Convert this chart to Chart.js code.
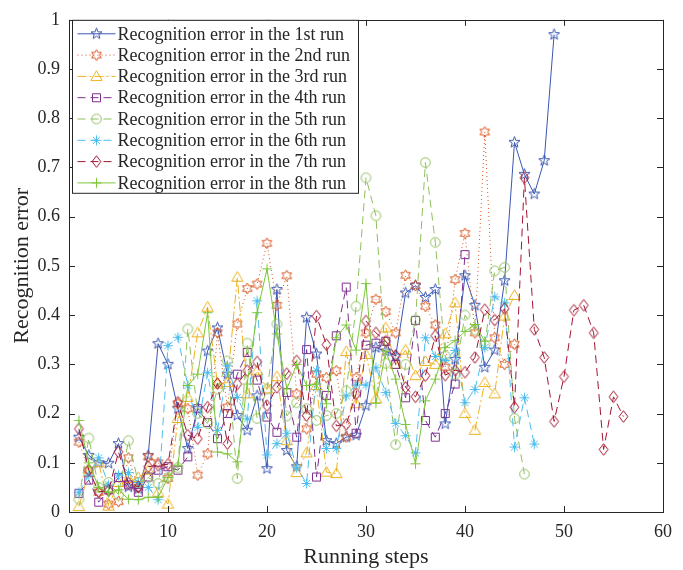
<!DOCTYPE html>
<html>
<head>
<meta charset="utf-8">
<script src="https://cdn.jsdelivr.net/npm/chart.js@4.4.1/dist/chart.umd.min.js"></script>
<style>
  html, body { margin: 0; padding: 0; background: #fff; }
  #wrap { width: 683px; height: 570px; }
</style>
</head>
<body>
<div id="wrap"><canvas id="chart" width="683" height="570"></canvas></div>
<script>
// recognition error per running step (step = index + 1)
const run1 = [0.152,0.115,0.10,0.099,0.139,0.051,0.047,0.115,0.342,0.30,0.21,0.129,0.21,0.327,0.374,0.28,0.196,0.166,0.236,0.088,0.452,0.125,0.092,0.395,0.321,0.145,0.139,0.152,0.156,0.216,0.334,0.327,0.317,0.445,0.46,0.436,0.452,0.179,0.31,0.48,0.42,0.294,0.329,0.47,0.751,0.686,0.646,0.714,0.97];
const run2 = [0.142,0.085,0.04,0.016,0.021,0.11,0.05,0.112,0.10,0.068,0.22,0.21,0.075,0.118,0.364,0.213,0.382,0.454,0.463,0.546,0.42,0.48,0.24,0.169,0.28,0.273,0.287,0.152,0.273,0.364,0.432,0.407,0.364,0.481,0.46,0.418,0.38,0.294,0.472,0.566,0.364,0.772,0.354,0.30,0.341];
const run3 = [0.011,0.08,0.10,0.012,0.06,0.068,0.07,0.085,0.04,0.016,0.19,0.233,0.364,0.416,0.26,0.263,0.477,0.24,0.287,0.25,0.275,0.145,0.08,0.12,0.257,0.081,0.078,0.326,0.22,0.32,0.23,0.374,0.30,0.329,0.277,0.306,0.30,0.362,0.425,0.2,0.166,0.263,0.24,0.398,0.44];
const run4 = [0.038,0.065,0.02,0.045,0.07,0.055,0.04,0.071,0.085,0.092,0.085,0.112,0.21,0.182,0.149,0.2,0.28,0.324,0.268,0.193,0.162,0.243,0.152,0.33,0.071,0.237,0.358,0.457,0.16,0.339,0.343,0.347,0.30,0.232,0.389,0.186,0.152,0.2,0.26,0.523];
const run5 = [0.026,0.15,0.05,0.06,0.035,0.145,0.06,0.07,0.058,0.07,0.09,0.372,0.2,0.18,0.25,0.307,0.068,0.343,0.19,0.25,0.382,0.195,0.222,0.21,0.186,0.196,0.2,0.246,0.418,0.679,0.602,0.302,0.137,0.30,0.39,0.71,0.548,0.317,0.28,0.40,0.37,0.34,0.49,0.497,0.19,0.077];
const run6 = [0.04,0.075,0.11,0.055,0.075,0.08,0.06,0.05,0.025,0.338,0.355,0.257,0.172,0.283,0.166,0.297,0.233,0.189,0.429,0.116,0.139,0.16,0.09,0.058,0.287,0.129,0.129,0.236,0.258,0.258,0.293,0.243,0.18,0.155,0.12,0.354,0.316,0.308,0.328,0.222,0.249,0.334,0.437,0.425,0.132,0.232,0.138];
const run7 = [0.169,0.085,0.041,0.043,0.122,0.059,0.051,0.092,0.095,0.097,0.223,0.156,0.149,0.213,0.261,0.139,0.26,0.287,0.305,0.216,0.253,0.281,0.307,0.196,0.398,0.34,0.175,0.178,0.24,0.388,0.364,0.347,0.318,0.253,0.234,0.277,0.358,0.278,0.288,0.284,0.314,0.411,0.39,0.413,0.213,0.679,0.371,0.314,0.184,0.275,0.41,0.42,0.364,0.127,0.234,0.194];
const run8 = [0.186,0.1,0.05,0.04,0.045,0.026,0.025,0.03,0.03,0.07,0.095,0.257,0.28,0.405,0.122,0.118,0.102,0.26,0.405,0.494,0.362,0.25,0.30,0.257,0.26,0.22,0.354,0.38,0.329,0.464,0.221,0.327,0.27,0.178,0.098,0.226,0.27,0.334,0.348,0.367,0.381,0.347];

const runs = [run1, run2, run3, run4, run5, run6, run7, run8];
const runNames = ['Recognition error in the 1st run','Recognition error in the 2nd run','Recognition error in the 3rd run','Recognition error in the 4th run','Recognition error in the 5th run','Recognition error in the 6th run','Recognition error in the 7th run','Recognition error in the 8th run'];
const colors = ['#3a57b4','#d95319','#edb120','#7e2f8e','#8fbf5c','#4dbeee','#a2142f','#7cc63a'];
const markers = ['pentagram','hexagram','triangle','square','circle','asterisk','diamond','plus'];
const dashes = [[], [1,3], [9,3,2,3], [8,5], [8,5], [8,5], [8,5], []];

const xTitle = 'Running steps';
const yTitle = 'Recognition error';
const FONT = "'Liberation Serif', 'Times New Roman', serif";
const INK = '#262626';

// draw one marker outline centered at (cx, cy)
function drawMarker(ctx, kind, cx, cy, color) {
	ctx.save();
	ctx.strokeStyle = color;
	ctx.lineWidth = 1;
	ctx.beginPath();
	if (kind === 'pentagram' || kind === 'hexagram') {
		const n = kind === 'pentagram' ? 5 : 6;
		const ro = kind === 'pentagram' ? 5.8 : 5.5;
		const ri = kind === 'pentagram' ? 2.4 : 3.1;
		for (let i = 0; i < n * 2; i++) {
			const r = i % 2 === 0 ? ro : ri;
			const a = -Math.PI / 2 + i * Math.PI / n;
			const px = cx + r * Math.cos(a), py = cy + r * Math.sin(a);
			if (i === 0) ctx.moveTo(px, py); else ctx.lineTo(px, py);
		}
		ctx.closePath();
	} else if (kind === 'triangle') {
		ctx.moveTo(cx, cy - 5.7);
		ctx.lineTo(cx + 5.7, cy + 4);
		ctx.lineTo(cx - 5.7, cy + 4);
		ctx.closePath();
	} else if (kind === 'square') {
		ctx.rect(cx - 4, cy - 4, 8, 8);
	} else if (kind === 'circle') {
		ctx.arc(cx, cy, 4.8, 0, Math.PI * 2);
	} else if (kind === 'asterisk') {
		const r = 5, d = r * 0.7071;
		ctx.moveTo(cx - r, cy); ctx.lineTo(cx + r, cy);
		ctx.moveTo(cx, cy - r); ctx.lineTo(cx, cy + r);
		ctx.moveTo(cx - d, cy - d); ctx.lineTo(cx + d, cy + d);
		ctx.moveTo(cx - d, cy + d); ctx.lineTo(cx + d, cy - d);
	} else if (kind === 'diamond') {
		ctx.moveTo(cx, cy - 5.8);
		ctx.lineTo(cx + 4.4, cy);
		ctx.lineTo(cx, cy + 5.8);
		ctx.lineTo(cx - 4.4, cy);
		ctx.closePath();
	} else if (kind === 'plus') {
		ctx.moveTo(cx - 5, cy); ctx.lineTo(cx + 5, cy);
		ctx.moveTo(cx, cy - 5); ctx.lineTo(cx, cy + 5);
	}
	ctx.stroke();
	ctx.restore();
}

// marker images used as pointStyle
const markerImgs = markers.map((m, i) => {
	const cv = document.createElement('canvas');
	cv.width = 15; cv.height = 15;
	drawMarker(cv.getContext('2d'), m, 7.5, 7.5, colors[i]);
	return cv;
});

const datasets = runs.map((vals, i) => ({
	label: runNames[i],
	data: vals.map((v, k) => ({ x: k + 1, y: v })),
	borderColor: colors[i],
	backgroundColor: 'transparent',
	borderWidth: 1,
	borderDash: dashes[i],
	pointStyle: markerImgs[i],
	pointRadius: 5,
	pointHoverRadius: 5,
	tension: 0,
	order: 8 - i,
}));

// axes box, inward ticks and legend like MATLAB
const framePlugin = {
	id: 'frame',
	afterDatasetsDraw(chart) {
		const { ctx, chartArea: a, scales } = chart;
		ctx.save();
		ctx.strokeStyle = INK;
		ctx.lineWidth = 1;
		ctx.beginPath();
		for (let v = 0; v <= 60; v += 10) {
			const px = Math.round(scales.x.getPixelForValue(v)) + 0.5;
			ctx.moveTo(px, a.bottom); ctx.lineTo(px, a.bottom - 6);
			ctx.moveTo(px, a.top); ctx.lineTo(px, a.top + 6);
		}
		for (let k = 0; k <= 10; k++) {
			const py = Math.round(scales.y.getPixelForValue(k / 10)) + 0.5;
			ctx.moveTo(a.left, py); ctx.lineTo(a.left + 6, py);
			ctx.moveTo(a.right, py); ctx.lineTo(a.right - 6, py);
		}
		ctx.stroke();
		ctx.strokeRect(Math.round(a.left) + 0.5, Math.round(a.top) + 0.5, Math.round(a.right - a.left), Math.round(a.bottom - a.top));

		// legend box
		const lx = a.left + 3.5, ly = a.top + 0.5, lw = 286, lh = 173;
		ctx.fillStyle = '#fff';
		ctx.fillRect(lx, ly, lw, lh);
		ctx.strokeRect(lx, ly, lw, lh);
		ctx.font = '18px ' + FONT;
		ctx.textBaseline = 'middle';
		ctx.textAlign = 'left';
		for (let i = 0; i < runNames.length; i++) {
			const cy = ly + 13.5 + i * 21.3;
			ctx.save();
			ctx.strokeStyle = colors[i];
			ctx.setLineDash(dashes[i]);
			ctx.beginPath();
			ctx.moveTo(lx + 5, cy); ctx.lineTo(lx + 43, cy);
			ctx.stroke();
			ctx.restore();
			ctx.drawImage(markerImgs[i], lx + 24 - 7.5, cy - 7.5);
			ctx.fillStyle = INK;
			ctx.fillText(runNames[i], lx + 45, cy + 1);
		}
		ctx.restore();
	}
};

new Chart(document.getElementById('chart'), {
	type: 'line',
	data: { datasets },
	plugins: [framePlugin],
	options: {
		responsive: false,
		devicePixelRatio: 1,
		animation: false,
		layout: { padding: { left: 0, right: 20, top: 17, bottom: 0 } },
		plugins: { legend: { display: false }, tooltip: { enabled: false } },
		scales: {
			x: {
				type: 'linear', min: 0, max: 60,
				grid: { display: false, drawTicks: false },
				border: { display: false },
				ticks: { stepSize: 10, color: INK, padding: 9, font: { family: FONT, size: 18 }, maxRotation: 0 },
				title: { display: true, text: xTitle, color: INK, font: { family: FONT, size: 22 }, padding: { top: 0, bottom: 0 } },
				afterFit(s) { s.height = 58; },
			},
			y: {
				min: 0, max: 1,
				grid: { display: false, drawTicks: false },
				border: { display: false },
				ticks: {
					stepSize: 0.1, color: INK, padding: 9, font: { family: FONT, size: 18 },
					callback: v => String(Number(v.toFixed(1))),
				},
				title: { display: true, text: yTitle, color: INK, font: { family: FONT, size: 22 }, padding: { top: 9, bottom: 0 } },
				afterFit(s) { s.width = 69; },
			},
		},
	},
});
</script>
</body>
</html>
